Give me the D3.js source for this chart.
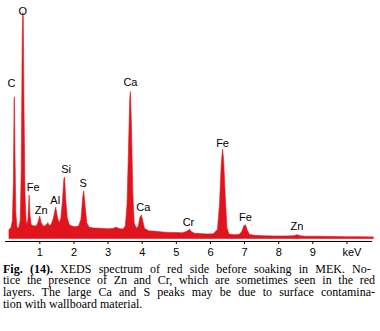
<!DOCTYPE html>
<html>
<head>
<meta charset="utf-8">
<script src="https://cdn.jsdelivr.net/npm/d3@7"></script>
<style>
  html, body { margin: 0; padding: 0; background: #fff; }
  svg { display: block; }
</style>
</head>
<body>
<svg id="chart" width="380" height="331"></svg>
<script>
// XEDS spectrum: energy (keV) and counts (arbitrary units)
const energyKeV = [
  0.11, 0.17, 0.21, 0.24, 0.26, 0.27, 0.285, 0.31, 0.34, 0.37, 0.40, 0.44, 0.47, 0.50, 0.515, 0.53,
  0.55, 0.58, 0.61, 0.64, 0.67, 0.70, 0.73, 0.76, 0.80, 0.86, 0.92, 0.97, 1.01, 1.05, 1.10, 1.16,
  1.21, 1.25, 1.29, 1.35, 1.41, 1.48, 1.53, 1.58, 1.63, 1.68, 1.72, 1.74, 1.77, 1.82, 1.88, 1.95,
  2.05, 2.15, 2.22, 2.27, 2.30, 2.34, 2.39, 2.46, 2.60, 2.80, 3.00, 3.15, 3.25, 3.30, 3.36, 3.45,
  3.52, 3.57, 3.61, 3.65, 3.67, 3.70, 3.74, 3.78, 3.84, 3.90, 3.95, 3.99, 4.03, 4.08, 4.20, 4.40,
  4.60, 4.80, 5.00, 5.20, 5.32, 5.40, 5.46, 5.55, 5.70, 5.90, 6.10, 6.22, 6.28, 6.33, 6.37, 6.40,
  6.45, 6.50, 6.56, 6.70, 6.85, 6.93, 6.99, 7.04, 7.09, 7.16, 7.30, 7.60, 7.90, 8.20, 8.45, 8.55,
  8.64, 8.80, 9.20, 9.60, 10.00, 10.40, 10.79
];
const counts = [
  40, 48, 80, 250, 600, 627, 400, 120, 55, 45, 50, 80, 300, 900, 1000, 980,
  600, 200, 80, 62, 90, 192, 100, 62, 58, 55, 58, 75, 100, 72, 56, 55,
  62, 70, 58, 62, 90, 139, 95, 70, 90, 170, 265, 271, 180, 90, 62, 55,
  52, 55, 85, 180, 211, 150, 70, 50, 46, 45, 43, 44, 50, 46, 43, 42,
  55, 150, 380, 620, 650, 500, 200, 70, 45, 55, 95, 104, 80, 45, 34, 32,
  29, 27, 26, 25, 32, 41, 30, 23, 22, 20, 21, 40, 150, 330, 395, 350,
  180, 45, 20, 17, 18, 30, 55, 61, 38, 18, 14, 12, 11, 11, 12, 17,
  12, 10, 10, 9, 8, 8, 7
];

// Element peak labels
const peakNames  = ["O", "C", "Ca", "Fe", "Zn", "Al", "Si", "S", "Ca", "Cr", "Fe", "Fe", "Zn"];
const peakKeV    = [0.515, 0.27, 3.67, 0.70, 1.01, 1.48, 1.74, 2.30, 3.99, 5.40, 6.37, 7.04, 8.55];
const peakCounts = [1000, 627, 650, 192, 100, 139, 271, 211, 104, 41, 395, 61, 17];
const labelDx    = [0, -3, 0, 4, 1.5, -0.5, 1.5, -0.5, 2, -1, 0, 0, 0];
const labelDy    = [2, -10, -5.5, -4, -2, -3, -4, -4, -4, -3.5, -2.5, -4, -4.5];

// Axis ticks
const tickValues = [1, 2, 3, 4, 5, 6, 7, 8, 9, 10];
const tickLabels = ["1", "2", "3", "4", "5", "6", "7", "8", "9", "keV"];

// Caption lines
const captionBold = "Fig. (14).";
const captionLines = [
  " XEDS spectrum of red side before soaking in MEK. No-",
  "tice the presence of Zn and Cr, which are sometimes seen in the red",
  "layers. The large Ca and S peaks may be due to surface contamina-",
  "tion with wallboard material."
];

const svg = d3.select("#chart");

const x = d3.scaleLinear().domain([0, 10]).range([5.2, 346.45]);
const y = d3.scaleLinear().domain([0, 1000]).range([238.5, 12.5]);

const spectrum = energyKeV.map((e, i) => ({ e, c: counts[i] }));

const area = d3.area()
  .x(d => x(d.e))
  .y0(y(0))
  .y1(d => y(d.c));

svg.append("path")
  .datum(spectrum)
  .attr("d", area)
  .attr("fill", "#e0141c")
  .attr("stroke", "#e0141c")
  .attr("stroke-width", 0.6)
  .attr("stroke-linejoin", "round");

// Energy axis
const axis = d3.axisBottom(x)
  .tickValues(tickValues)
  .tickSize(3)
  .tickSizeOuter(0)
  .tickFormat((d, i) => tickLabels[i]);

const gAxis = svg.append("g")
  .attr("transform", "translate(0,241)")
  .call(axis);

gAxis.select(".domain")
  .attr("d", `M${x(-0.005)},0.5H${x(10.75)}`)
  .attr("stroke", "#000");
gAxis.selectAll(".tick line").attr("stroke", "#000");
gAxis.selectAll(".tick text")
  .attr("y", 7)
  .attr("font-family", "Liberation Sans, Arial, sans-serif")
  .attr("font-size", 11)
  .attr("fill", "#000");
gAxis.selectAll(".tick").filter(d => d === 10).select("text").attr("x", 5);

// Peak labels
svg.append("g")
  .selectAll("text")
  .data(peakNames)
  .join("text")
  .attr("x", (d, i) => x(peakKeV[i]) + labelDx[i])
  .attr("y", (d, i) => y(peakCounts[i]) + labelDy[i])
  .attr("text-anchor", "middle")
  .attr("font-family", "Liberation Sans, Arial, sans-serif")
  .attr("font-size", 11)
  .attr("fill", "#000")
  .text(d => d);

// Caption, justified to the column width
const capLeft = 3, capRight = 375, capTop = 272.5, capLead = 11.7;
captionLines.forEach((line, i) => {
  const t = svg.append("text")
    .attr("x", capLeft)
    .attr("y", capTop + i * capLead)
    .attr("font-family", "Liberation Serif, Times New Roman, serif")
    .attr("font-size", 12)
    .attr("fill", "#000")
    .attr("xml:space", "preserve");
  if (i === 0) {
    t.append("tspan").attr("font-weight", "bold").text(captionBold);
  }
  t.append("tspan").text(line);
  if (i < captionLines.length - 1) {
    const natural = t.node().getComputedTextLength();
    const full = (i === 0 ? captionBold : "") + line;
    const spaces = (full.trim().match(/ /g) || []).length + (i === 0 ? 1 : 0);
    const extra = (capRight - capLeft - natural) / Math.max(1, spaces);
    t.attr("word-spacing", extra);
  }
});
</script>
</body>
</html>
